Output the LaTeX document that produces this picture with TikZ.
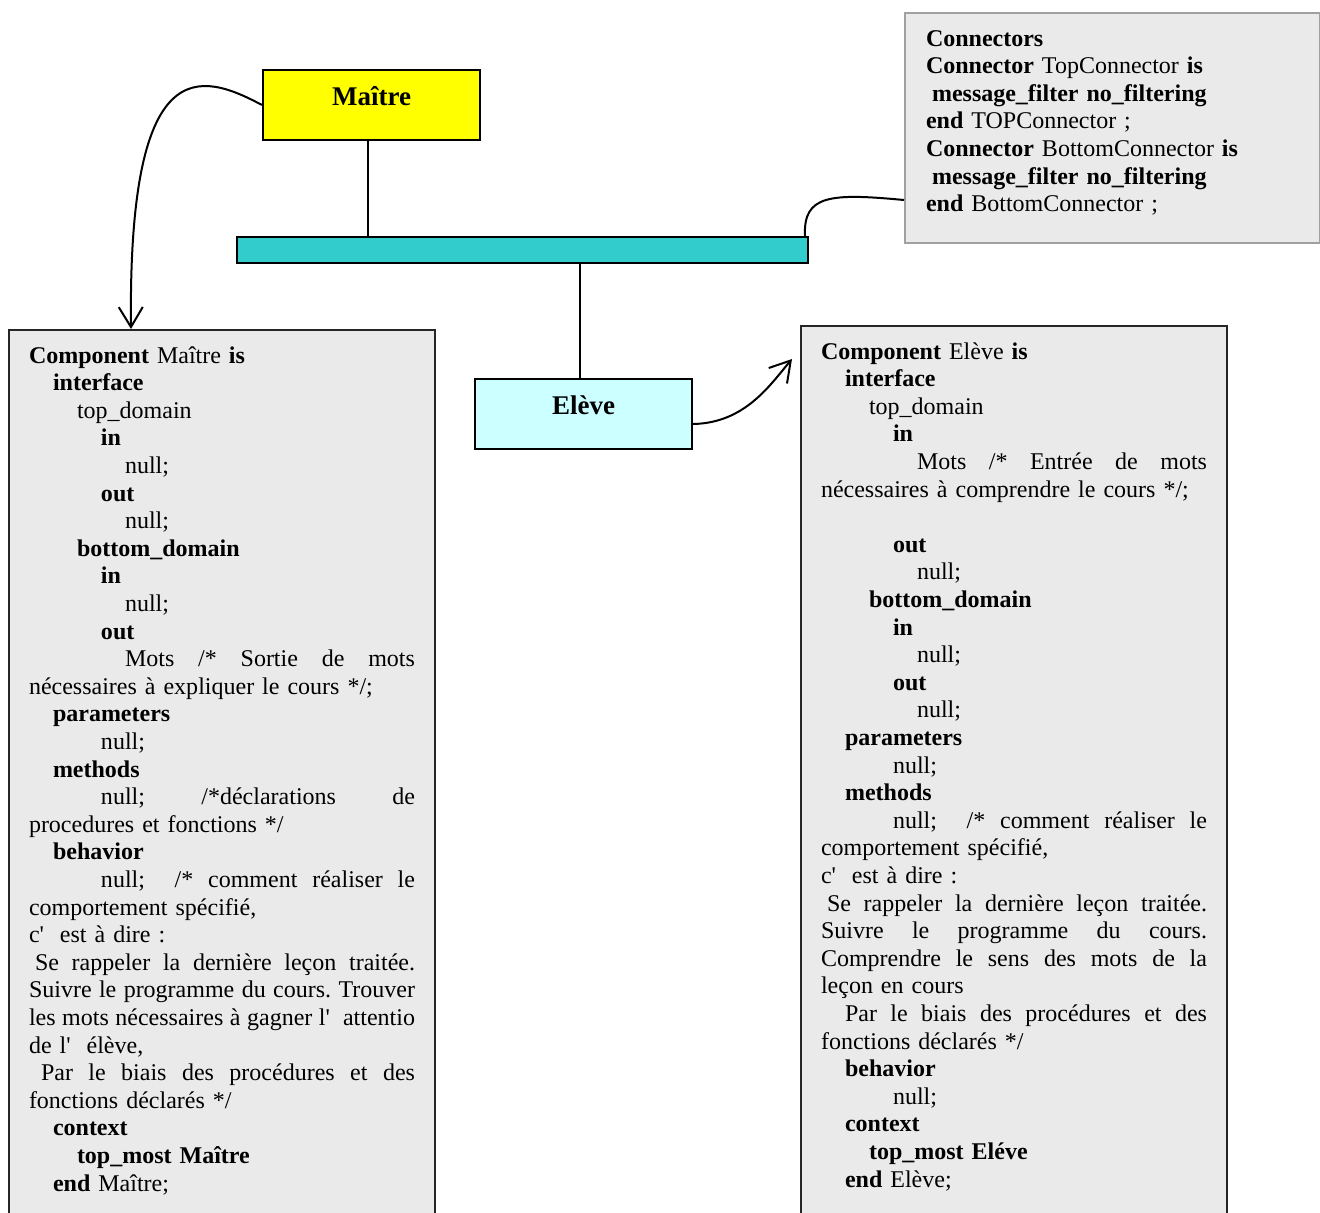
\documentclass[tikz,border=0pt]{standalone}
\usepackage{fontspec}
\setmainfont{Liberation Serif}
\usetikzlibrary{arrows.meta,calc}

\definecolor{jaune}{HTML}{FFFF00}
\definecolor{turquoise}{HTML}{33CCCC}
\definecolor{cyanclair}{HTML}{CCFFFF}
\definecolor{grisfond}{HTML}{EAEAEA}
\definecolor{grisbord}{HTML}{A0A0A0}

\frenchspacing
\newcommand{\indt}[1]{\hspace*{#1pt}}
\newcommand{\jline}[1]{\leavevmode\hbox to 193pt{\spaceskip=3pt plus 1fil minus 1pt\relax #1}}

\begin{document}
\begin{tikzpicture}[x=0.5pt, y=-0.5pt,
    boite/.style={draw, line width=1pt, anchor=north west, minimum width=108.5pt,
      font=\fontsize{13.5}{15}\selectfont\bfseries,
      text height=9.5pt, text depth=9.5pt, inner ysep=8pt},
    texte/.style={draw, line width=1pt, fill=grisfond, anchor=north west, align=left,
      font=\fontsize{12}{13.8}\selectfont, text height=8.5pt, inner ysep=8pt},
    lien/.style={line width=1pt},
    fleche/.style={line width=1pt, -{Straight Barb[length=10pt,width=12pt]}}]
    \useasboundingbox (0,0) rectangle (1320,1212);

    \node[boite, fill=jaune] (maitre) at (262,69) {Maître};
    \node[draw, line width=1pt, fill=turquoise, anchor=north west, minimum width=285.5pt,
      minimum height=13pt, inner sep=0pt] (bus) at (236,236) {};
    \node[boite, fill=cyanclair] (eleve) at (474,378) {Elève};

    \node[texte, draw=grisbord, text width=186.5pt, inner xsep=10.5pt, text depth=90.5pt]
      (conn) at (904,12) {%
\textbf{Connectors}\\
\textbf{Connector} TopConnector \textbf{is}\\
\indt{3}\textbf{message\_filter no\_filtering}\\
\textbf{end} TOPConnector ;\\
\textbf{Connector} BottomConnector \textbf{is}\\
\indt{3}\textbf{message\_filter no\_filtering}\\
\textbf{end} BottomConnector ;};

    \node[texte, draw=black!85, text width=193pt, inner xsep=10pt, text depth=424pt]
      (compMaitre) at (8,329) {%
\textbf{Component} Maître \textbf{is}\\
\indt{12}\textbf{interface}\\
\indt{24}top\_domain\\
\indt{36}\textbf{in}\\
\indt{48}null;\\
\indt{36}\textbf{out}\\
\indt{48}null;\\
\indt{24}\textbf{bottom\_domain}\\
\indt{36}\textbf{in}\\
\indt{48}null;\\
\indt{36}\textbf{out}\\
\jline{\indt{48}Mots /* Sortie de mots}\\
nécessaires à expliquer le cours */;\\
\indt{12}\textbf{parameters}\\
\indt{36}null;\\
\indt{12}\textbf{methods}\\
\jline{\indt{36}null; /*déclarations de}\\
procedures et fonctions */\\
\indt{12}\textbf{behavior}\\
\jline{\indt{36}null;\ \ /* comment réaliser le}\\
comportement spécifié,\\
c\textquotesingle\ \ est à dire :\\
\jline{\indt{3}Se rappeler la dernière leçon traitée.}\\
\jline{Suivre le programme du cours. Trouver}\\
\jline{les mots nécessaires à gagner l\textquotesingle\ \ attentio}\\
de l\textquotesingle\ \ élève,\\
\jline{\indt{6}Par le biais des procédures et des}\\
fonctions déclarés */\\
\indt{12}\textbf{context}\\
\indt{24}\textbf{top\_most Maître}\\
\indt{12}\textbf{end} Maître;};

    \node[texte, draw=black!85, text width=193pt, inner xsep=10pt, text depth=426pt]
      (compEleve) at (800,325) {%
\textbf{Component} Elève \textbf{is}\\
\indt{12}\textbf{interface}\\
\indt{24}top\_domain\\
\indt{36}\textbf{in}\\
\jline{\indt{48}Mots /* Entrée de mots}\\
nécessaires à comprendre le cours */;\\
\mbox{}\\
\indt{36}\textbf{out}\\
\indt{48}null;\\
\indt{24}\textbf{bottom\_domain}\\
\indt{36}\textbf{in}\\
\indt{48}null;\\
\indt{36}\textbf{out}\\
\indt{48}null;\\
\indt{12}\textbf{parameters}\\
\indt{36}null;\\
\indt{12}\textbf{methods}\\
\jline{\indt{36}null;\ \ /* comment réaliser le}\\
comportement spécifié,\\
c\textquotesingle\ \ est à dire :\\
\jline{\indt{3}Se rappeler la dernière leçon traitée.}\\
\jline{Suivre le programme du cours.}\\
\jline{Comprendre le sens des mots de la}\\
leçon en cours\\
\jline{\indt{12}Par le biais des procédures et des}\\
fonctions déclarés */\\
\indt{12}\textbf{behavior}\\
\indt{36}null;\\
\indt{12}\textbf{context}\\
\indt{24}\textbf{top\_most Eléve}\\
\indt{12}\textbf{end} Elève;};

    \coordinate (tipMaitre) at (131,329);
    \coordinate (tipEleve) at (792,359);

    % liaisons
    \draw[lien] ([xshift=-2pt]maitre.south) -- ([xshift=-2pt]maitre.south |- bus.north);
    \draw[lien] ([xshift=-2pt]eleve.north) -- ([xshift=-2pt]eleve.north |- bus.south);
    \draw[lien] ($(bus.north east)+(-4,0)$) .. controls (803,195) and (830,193) .. ($(conn.south west)+(0,-44)$);
    \draw[fleche] (maitre.west) .. controls (200,72) and (128,50) .. (tipMaitre);
    \draw[fleche] ([yshift=-5pt]eleve.east) .. controls (745,423) and (770,385) .. (tipEleve);
  \end{tikzpicture}
\end{document}
